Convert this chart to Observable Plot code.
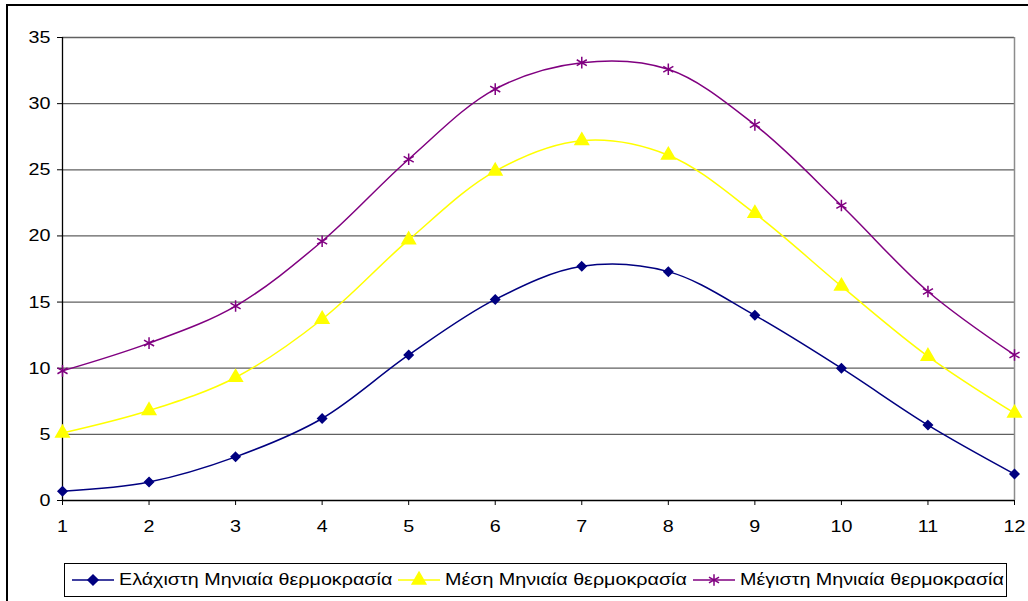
<!DOCTYPE html>
<html>
<head>
<meta charset="utf-8">
<script src="https://cdn.jsdelivr.net/npm/d3@7"></script>
<script src="https://cdn.jsdelivr.net/npm/@observablehq/plot@0.6"></script>
<style>
  html, body { margin: 0; padding: 0; background: #fff; }
  body { width: 1028px; height: 601px; overflow: hidden; position: relative; font-family: "Liberation Sans", Arial, sans-serif; }
  #frame { position: absolute; left: 6px; top: 4px; width: 1040px; height: 620px; border: 2px solid #000; box-sizing: border-box; pointer-events: none; }
  #chart { position: absolute; left: 0; top: 0; }
  #legend { position: absolute; left: 64px; top: 563px; width: 943px; height: 34px; border: 1px solid #000; box-sizing: border-box; background: #fff; }
  .item { position: absolute; top: 0; height: 32px; display: flex; align-items: center; color: #000; white-space: nowrap; }
  .item svg { margin-right: 5px; flex: none; }
  .item span { display: inline-block; font-size: 17px; transform: scaleX(1.16); transform-origin: left center; }
</style>
</head>
<body>
<div id="chart"></div>
<div id="legend"></div>
<div id="frame"></div>
<script>
const months = [1, 2, 3, 4, 5, 6, 7, 8, 9, 10, 11, 12];
const minTemp = [0.7, 1.4, 3.3, 6.2, 11.0, 15.2, 17.7, 17.3, 14.0, 10.0, 5.7, 2.0];
const meanTemp = [5.1, 6.8, 9.3, 13.7, 19.7, 24.9, 27.2, 26.1, 21.7, 16.2, 10.9, 6.6];
const maxTemp = [9.8, 11.9, 14.7, 19.6, 25.8, 31.1, 33.1, 32.6, 28.4, 22.3, 15.8, 11.0];
const seriesNames = ["Ελάχιστη Μηνιαία θερμοκρασία", "Μέση Μηνιαία θερμοκρασία", "Μέγιστη Μηνιαία θερμοκρασία"];
const seriesColors = ["#000080", "#FFFF00", "#800080"];
const seriesSymbols = ["diamond2", "triangle", "asterisk"];
const yTicks = [0, 5, 10, 15, 20, 25, 30, 35];

const seriesValues = [minTemp, meanTemp, maxTemp];
const data = seriesValues.flatMap((vals, i) =>
  vals.map((v, j) => ({ month: months[j], value: v, series: seriesNames[i] })));

const chart = Plot.plot({
  width: 1028,
  height: 560,
  marginLeft: 62,
  marginRight: 14,
  marginTop: 37,
  marginBottom: 60,
  style: { fontFamily: "Liberation Sans, Arial, sans-serif", fontSize: "17px", background: "transparent" },
  x: { domain: [1, 12] },
  y: { domain: [0, 35] },
  color: { domain: seriesNames, range: seriesColors },
  symbol: { domain: seriesNames, range: seriesSymbols },
  marks: [
    Plot.ruleY(yTicks.filter(d => d > 0), { stroke: "#606060", strokeWidth: 1.3 }),
    Plot.ruleX([12], { stroke: "#8c8c8c", strokeWidth: 1.5 }),
    Plot.axisY({ ticks: yTicks, tickSize: 5, tickPadding: 7, label: null, stroke: "#000", fill: "#000", fontSize: 17 }),
    Plot.axisX({ ticks: months, tickSize: 5, tickPadding: 14, label: null, stroke: "#000", fill: "#000", fontSize: 17 }),
    Plot.line(data, { x: "month", y: "value", z: "series", stroke: "series", curve: "catmull-rom", strokeWidth: 1.5 }),
    Plot.ruleY([0], { stroke: "#000", strokeWidth: 1.3 }),
    Plot.ruleX([1], { stroke: "#000", strokeWidth: 1.3 }),
    Plot.dot(data.filter(d => d.series === seriesNames[0]), { x: "month", y: "value", symbol: "series", fill: "series", stroke: "series", r: 4 }),
    Plot.dot(data.filter(d => d.series === seriesNames[1]), { x: "month", y: "value", symbol: "series", fill: "series", stroke: "series", r: 5 }),
    Plot.dot(data.filter(d => d.series === seriesNames[2]), { x: "month", y: "value", symbol: "series", stroke: "series", r: 5.5, strokeWidth: 1.5 })
  ]
});
// widen tick labels horizontally like the reference's stretched Arial
d3.select(chart).selectAll('g[aria-label$="tick label"] text').each(function () {
  const t = this.getAttribute("transform") || "";
  this.setAttribute("transform", (t + " scale(1.16,1)").trim());
});
document.getElementById("chart").appendChild(chart);

// Legend
const legend = document.getElementById("legend");
const itemLefts = [7, 333, 628];
const symbolFns = [d3.symbolDiamond2, d3.symbolTriangle, d3.symbolAsterisk];
seriesNames.forEach((name, i) => {
  const item = document.createElement("div");
  item.className = "item";
  item.style.left = itemLefts[i] + "px";
  const svg = d3.create("svg").attr("width", 42).attr("height", 20);
  svg.append("line").attr("x1", 0).attr("x2", 42).attr("y1", 10).attr("y2", 10)
    .attr("stroke", seriesColors[i]).attr("stroke-width", 1.5);
  const area = i === 2 ? 95 : (i === 1 ? 80 : 64);
  svg.append("path").attr("d", d3.symbol(symbolFns[i], area)())
    .attr("transform", "translate(21,10)")
    .attr("fill", i === 2 ? "none" : seriesColors[i])
    .attr("stroke", seriesColors[i]).attr("stroke-width", 1.5);
  item.appendChild(svg.node());
  const span = document.createElement("span");
  span.textContent = name;
  item.appendChild(span);
  legend.appendChild(item);
});
</script>
</body>
</html>
